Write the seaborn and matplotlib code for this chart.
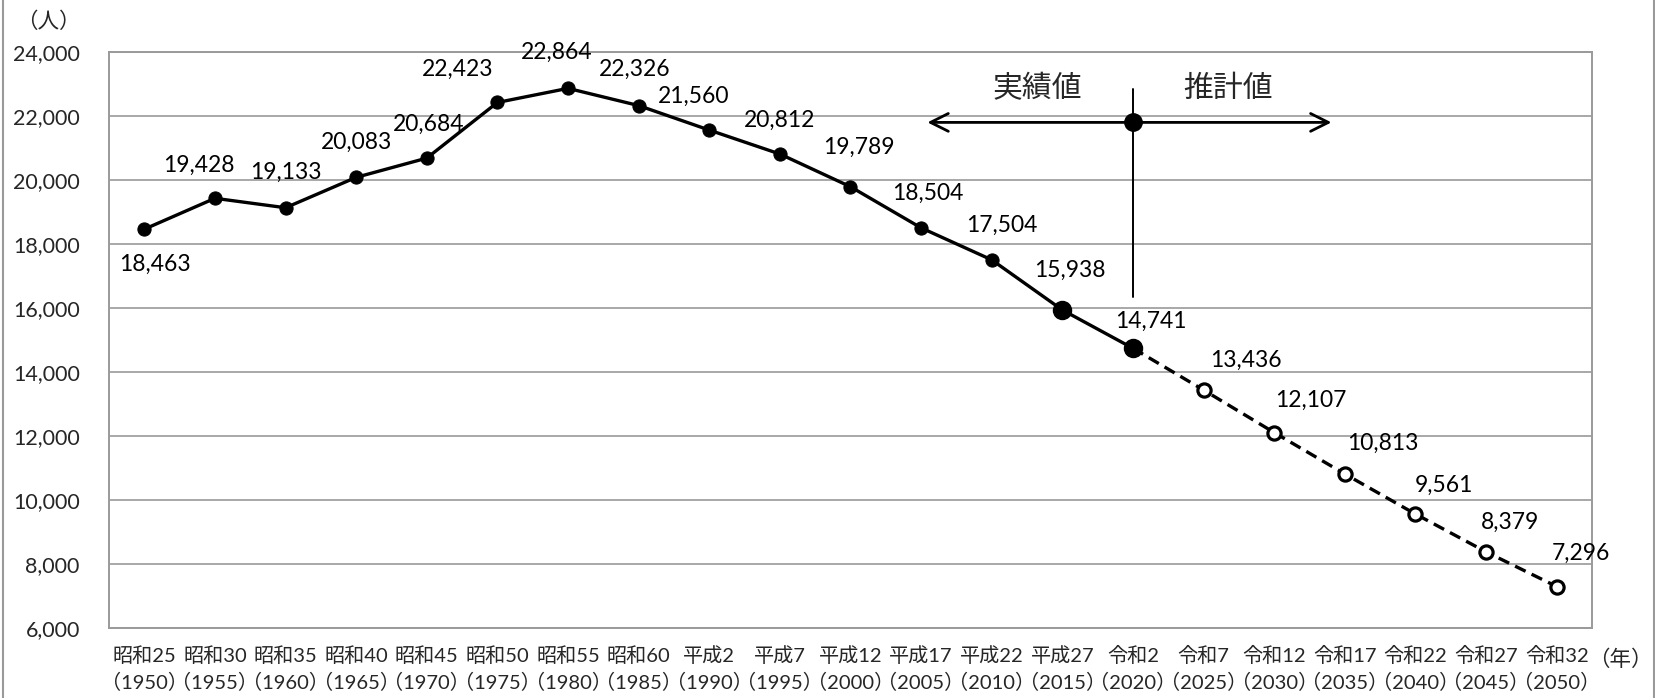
import matplotlib
matplotlib.use("Agg")
import matplotlib.pyplot as plt
import seaborn as sns
import pandas as pd
from matplotlib.patches import Rectangle

sns.set_theme(style="white")
plt.rcParams['font.family'] = ['Lato', 'Noto Sans CJK JP', 'DejaVu Sans']

eras = ["昭和25", "昭和30", "昭和35", "昭和40", "昭和45", "昭和50", "昭和55", "昭和60",
        "平成2", "平成7", "平成12", "平成17", "平成22", "平成27", "令和2",
        "令和7", "令和12", "令和17", "令和22", "令和27", "令和32"]
years = [1950, 1955, 1960, 1965, 1970, 1975, 1980, 1985, 1990, 1995, 2000,
         2005, 2010, 2015, 2020, 2025, 2030, 2035, 2040, 2045, 2050]
population = [18463, 19428, 19133, 20083, 20684, 22423, 22864, 22326, 21560, 20812,
              19789, 18504, 17504, 15938, 14741, 13436, 12107, 10813, 9561, 8379, 7296]
actual_last = 14  # index of 2020 (last actual value)
yticks = [6000, 8000, 10000, 12000, 14000, 16000, 18000, 20000, 22000, 24000]

# label offsets (pixels) – styling only
label_offsets = [(11, -35), (-16, 33), (0, 35), (0, 35), (2, 34), (-40, 33), (-11, 36),
                 (-4, 36), (-16, 34), (0, 34), (8, 39), (7, 35), (10, 35), (8, 40),
                 (18, 27), (42, 30), (37, 32), (38, 31), (28, 29), (24, 30), (24, 33)]

GRAY = "#9a9a9a"

df = pd.DataFrame({"x": range(len(years)), "pop": population})
df_act = df.iloc[:actual_last + 1]
df_est = df.iloc[actual_last:]

fig = plt.figure(figsize=(16.56, 6.98), dpi=100)
ax = fig.add_axes([109/1656, 1 - 628/698, (1592 - 109)/1656, (628 - 52)/698])

sns.lineplot(data=df_act, x="x", y="pop", ax=ax, color="black", lw=2.4,
             marker="o", markersize=9.5, markerfacecolor="black", markeredgecolor="black")
sns.lineplot(data=df_est, x="x", y="pop", ax=ax, color="black", lw=2.4,
             linestyle=(0, (3.5, 2)), marker=None)
ax.plot(df_est["x"].iloc[1:], df_est["pop"].iloc[1:], ls="none", marker="o",
        markersize=9.5, markerfacecolor="white", markeredgecolor="black", mew=2.3, zorder=5)
# larger markers for 2015 and 2020
ax.plot(df["x"].iloc[13:15], df["pop"].iloc[13:15], ls="none", marker="o",
        markersize=13, color="black", zorder=5)

for i, (v, off) in enumerate(zip(population, label_offsets)):
    ax.annotate(f"{v:,}", (i, v), xytext=off, textcoords="offset pixels",
                ha="center", va="center", fontsize=16.5, color="black")

# 実績値 / 推計値 annotation
xc = actual_last
ax.annotate("", xy=(11.05, 21800), xytext=(xc, 21800),
            arrowprops=dict(arrowstyle="->", lw=2.0, color="black", mutation_scale=32))
ax.annotate("", xy=(16.85, 21800), xytext=(xc, 21800),
            arrowprops=dict(arrowstyle="->", lw=2.0, color="black", mutation_scale=32))
ax.plot([xc, xc], [16340, 22850], color="black", lw=1.4)
ax.plot([xc], [21800], marker="o", markersize=12.5, color="black", zorder=6)
ax.text(12.64, 22870, "実績値", fontsize=21.5, ha="center", va="center")
ax.text(15.35, 22870, "推計値", fontsize=21.5, ha="center", va="center")

ax.set_xlim(-0.5, len(years) - 0.5)
ax.set_ylim(6000, 24000)
ax.set_yticks(yticks)
ax.set_yticklabels([f"{t:,}" for t in yticks], fontsize=15.5)
ax.set_xticks(range(len(years)))
ax.set_xticklabels([f"{e}\n（{y}）" for e, y in zip(eras, years)], fontsize=14.5,
                   linespacing=1.5)
ax.set_xticks([i - 0.5 for i in range(len(years) + 1)], minor=True)
ax.tick_params(axis="x", which="major", length=0, pad=13)
ax.tick_params(axis="x", which="minor", length=5, color=GRAY, width=1.2)
ax.tick_params(axis="y", length=7, color=GRAY, width=1.2, pad=14)
ax.yaxis.grid(True, color=GRAY, lw=1.2)
ax.xaxis.grid(False)
for s in ax.spines.values():
    s.set_color(GRAY)
    s.set_linewidth(1.4)
ax.set_xlabel("")
ax.set_ylabel("")

fig.text(48/1656, 1 - 22/698, "（人）", fontsize=15.5, ha="center", va="center")
fig.text(1620/1656, 1 - 660/698, "（年）", fontsize=15.5, ha="center", va="center")

fig.patches.append(Rectangle((3/1656, -0.01), (1654 - 3)/1656, 1.02, transform=fig.transFigure,
                             fill=False, edgecolor=GRAY, lw=1.5))

fig.savefig("out.png", dpi=100)
